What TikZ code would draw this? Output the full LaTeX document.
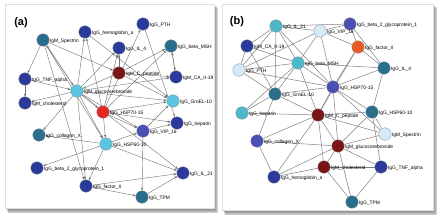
\documentclass[tikz,border=0pt]{standalone}
\usepackage{fontspec}
\setmainfont{Liberation Sans}
\usetikzlibrary{arrows.meta}
\pgfdeclarelayer{panel}
\pgfdeclarelayer{edges}
\pgfsetlayers{panel,edges,main}
\definecolor{dkblue}{HTML}{2B3A9C}
\definecolor{mdblue}{HTML}{4A4FB4}
\definecolor{teal1}{HTML}{2A6E8E}
\definecolor{ltcyan}{HTML}{5CC6E0}
\definecolor{mdcyan}{HTML}{4DB8C8}
\definecolor{red1}{HTML}{E22A20}
\definecolor{dkred}{HTML}{7A1616}
\definecolor{vlblue}{HTML}{D4EAF8}
\definecolor{orred}{HTML}{E85A22}
\begin{document}
\begin{tikzpicture}[x=1pt,y=-1pt,
  nd/.style={circle,draw=black!45,line width=0.3pt,minimum size=12.5pt,inner sep=0pt},
  lbl/.style={font=\fontsize{4.9}{5.5}\selectfont,inner sep=0.4pt,yshift=-1.6pt,label distance=0pt},
  ttl/.style={font=\fontsize{11}{12}\selectfont\bfseries,inner sep=0pt},
  dir/.style={draw=black!55,line width=0.4pt,-{Stealth[length=3.2pt,width=2.4pt]}},
  und/.style={draw=black!50,line width=0.5pt}]
\newcommand{\nn}[5]{\node[nd,fill=#4,label={[lbl]right:#5}] (#1) at (#2,#3) {};}
\useasboundingbox (0,0) rectangle (442,222);
\begin{pgfonlayer}{panel}
\fill[white] (0,0) rectangle (442,222);
\foreach \i in {1,...,6}{
  \fill[black,opacity=0.1] (5+\i*0.5,4+\i*0.6) rectangle (214+\i*0.7,208+\i*0.9);
  \fill[black,opacity=0.1] (222+\i*0.5,4+\i*0.6) rectangle (433+\i*0.7,210+\i*0.9);
}
\filldraw[fill=white,draw=black!12,line width=0.3pt] (5,4) rectangle (214,208);
\filldraw[fill=white,draw=black!12,line width=0.3pt] (222,4) rectangle (433,210);
\end{pgfonlayer}
\node[ttl] (ta) at (21,23) {(a)};
\node[ttl] (tb) at (237,22) {(b)};
% ---------- panel (a) ----------
\nn{asp}{43}{40}{teal1}{IgM\_Spectrin}
\nn{ahem}{85}{32}{dkblue}{IgG\_hemoglobin\_a}
\nn{atnf}{25}{79}{dkblue}{IgG\_TNF\_alpha}
\nn{achol}{25}{103}{dkblue}{IgM\_cholesterol}
\nn{aglu}{77}{91}{ltcyan}{IgM\_glucocerebroside}
\nn{acol}{39}{135}{teal1}{IgG\_collagen\_X}
\nn{ahsp70}{103}{112}{red1}{IgG\_HSP70-15}
\nn{ahsp60}{106}{144}{ltcyan}{IgG\_HSP60-10}
\nn{apth}{143}{24}{dkblue}{IgG\_PTH}
\nn{ail4}{119}{48}{dkblue}{IgG\_IL\_4}
\nn{amsh}{171}{46}{teal1}{IgG\_beta\_MSH}
\nn{acpep}{119}{73}{dkred}{IgM\_C\_peptide}
\nn{aca}{176}{77}{dkblue}{IgM\_CA\_II-19}
\nn{agro}{173}{101}{ltcyan}{IgG\_GroEL-10}
\nn{ahep}{177}{123}{dkblue}{IgG\_heparin}
\nn{avip}{143}{131}{mdblue}{IgG\_VIP\_16}
\nn{ab2}{37}{168}{dkblue}{IgG\_beta\_2\_glycoprotein\_1}
\nn{afac}{86}{186}{dkblue}{IgG\_factor\_II}
\nn{ail21}{183}{173}{dkblue}{IgG\_IL\_21}
\nn{atpm}{142}{197}{teal1}{IgG\_TPM}
\begin{pgfonlayer}{edges}
\foreach \s/\t in {asp/atnf,atnf/achol,aglu/asp,asp/acpep,asp/ahsp60,asp/afac,
  aglu/ahem,ahsp70/ahem,ahem/agro,aglu/ail4,acpep/ail4,ahsp70/ail4,
  ahsp70/apth,apth/ahep,ahsp70/amsh,acpep/amsh,amsh/aca,aca/amsh,
  aglu/aca,acpep/aca,acpep/agro,ahsp70/agro,avip/agro,aglu/agro,
  ahsp70/ahep,avip/ahep,ahsp70/avip,aglu/avip,ahsp60/avip,
  aglu/ahsp60,ahsp70/ahsp60,ahsp60/acol,ahsp60/ab2,ahsp60/afac,ahsp60/ail21,
  aglu/acol,aglu/afac,afac/ail21,afac/atpm,atpm/ail21,avip/atpm,aglu/ail21,
  aglu/achol,atnf/aglu,aglu/ahsp70,acpep/aglu,asp/aglu}
  \draw[dir] (\s) -- (\t);
\end{pgfonlayer}
% ---------- panel (b) ----------
\nn{bil21}{276}{26}{mdcyan}{IgG\_IL\_21}
\nn{bca}{247}{46}{dkblue}{IgM\_CA\_II-19}
\nn{bpth}{239}{70}{vlblue}{IgG\_PTH}
\nn{bvip}{320}{31}{vlblue}{IgG\_VIP\_16}
\nn{bb2}{350}{24}{mdblue}{IgG\_beta\_2\_glycoprotein\_1}
\nn{bfac}{358}{47}{orred}{IgG\_factor\_II}
\nn{bil4}{384}{68}{teal1}{IgG\_IL\_4}
\nn{bmsh}{298}{63}{mdcyan}{IgG\_beta\_MSH}
\nn{bgro}{275}{94}{teal1}{IgG\_GroEL-10}
\nn{bhep}{242}{113}{mdcyan}{IgG\_heparin}
\nn{bhsp70}{333}{87}{mdblue}{IgG\_HSP70-15}
\nn{bcpep}{318}{115}{dkred}{IgM\_C\_peptide}
\nn{bhsp60}{372}{112}{teal1}{IgG\_HSP60-10}
\nn{bsp}{385}{134}{vlblue}{IgM\_Spectrin}
\nn{bcol}{257}{141}{mdblue}{IgG\_collagen\_X}
\nn{bglu}{338}{146}{dkred}{IgM\_glucocerebroside}
\nn{bhem}{274}{177}{dkblue}{IgG\_hemoglobin\_a}
\nn{bchol}{324}{167}{dkred}{IgM\_cholesterol}
\nn{btnf}{381}{167}{dkblue}{IgG\_TNF\_alpha}
\nn{btpm}{352}{202}{teal1}{IgG\_TPM}
\begin{pgfonlayer}{edges}
\foreach \s/\t in {bil21/bca,bil21/bpth,bil21/bvip,bil21/bmsh,bil21/bgro,bil21/bhsp70,
  bvip/bb2,bvip/bfac,bvip/bmsh,bvip/bhsp70,bvip/bpth,bil21/bb2,
  bb2/bfac,bb2/bil4,bfac/bil4,bfac/bhsp70,bfac/bcpep,
  bil4/bhsp70,bil4/bmsh,bil4/bhsp60,
  bmsh/bpth,bmsh/bca,bmsh/bhsp70,bmsh/bgro,bmsh/bhep,bmsh/bcpep,
  bhsp70/bcpep,bhsp70/bhsp60,bhsp70/bsp,bhsp70/bglu,bhsp70/bgro,bhsp70/bpth,
  bcpep/bgro,bcpep/bcol,bcpep/bhep,bcpep/bhsp60,bcpep/bglu,bcpep/bchol,bcpep/bhem,bcpep/bsp,
  bhsp60/bsp,bhsp60/btnf,bhsp60/bglu,
  bsp/bglu,bglu/bchol,bglu/bhem,bglu/bcol,bglu/btnf,bglu/btpm,
  bchol/btpm,bchol/btnf,bchol/bhem,btnf/btpm,bhem/bcol,
  bcol/bgro,bhep/bgro,bgro/bpth,bgro/bca,bpth/bca}
  \draw[und] (\s) -- (\t);
\end{pgfonlayer}
\end{tikzpicture}
\end{document}
